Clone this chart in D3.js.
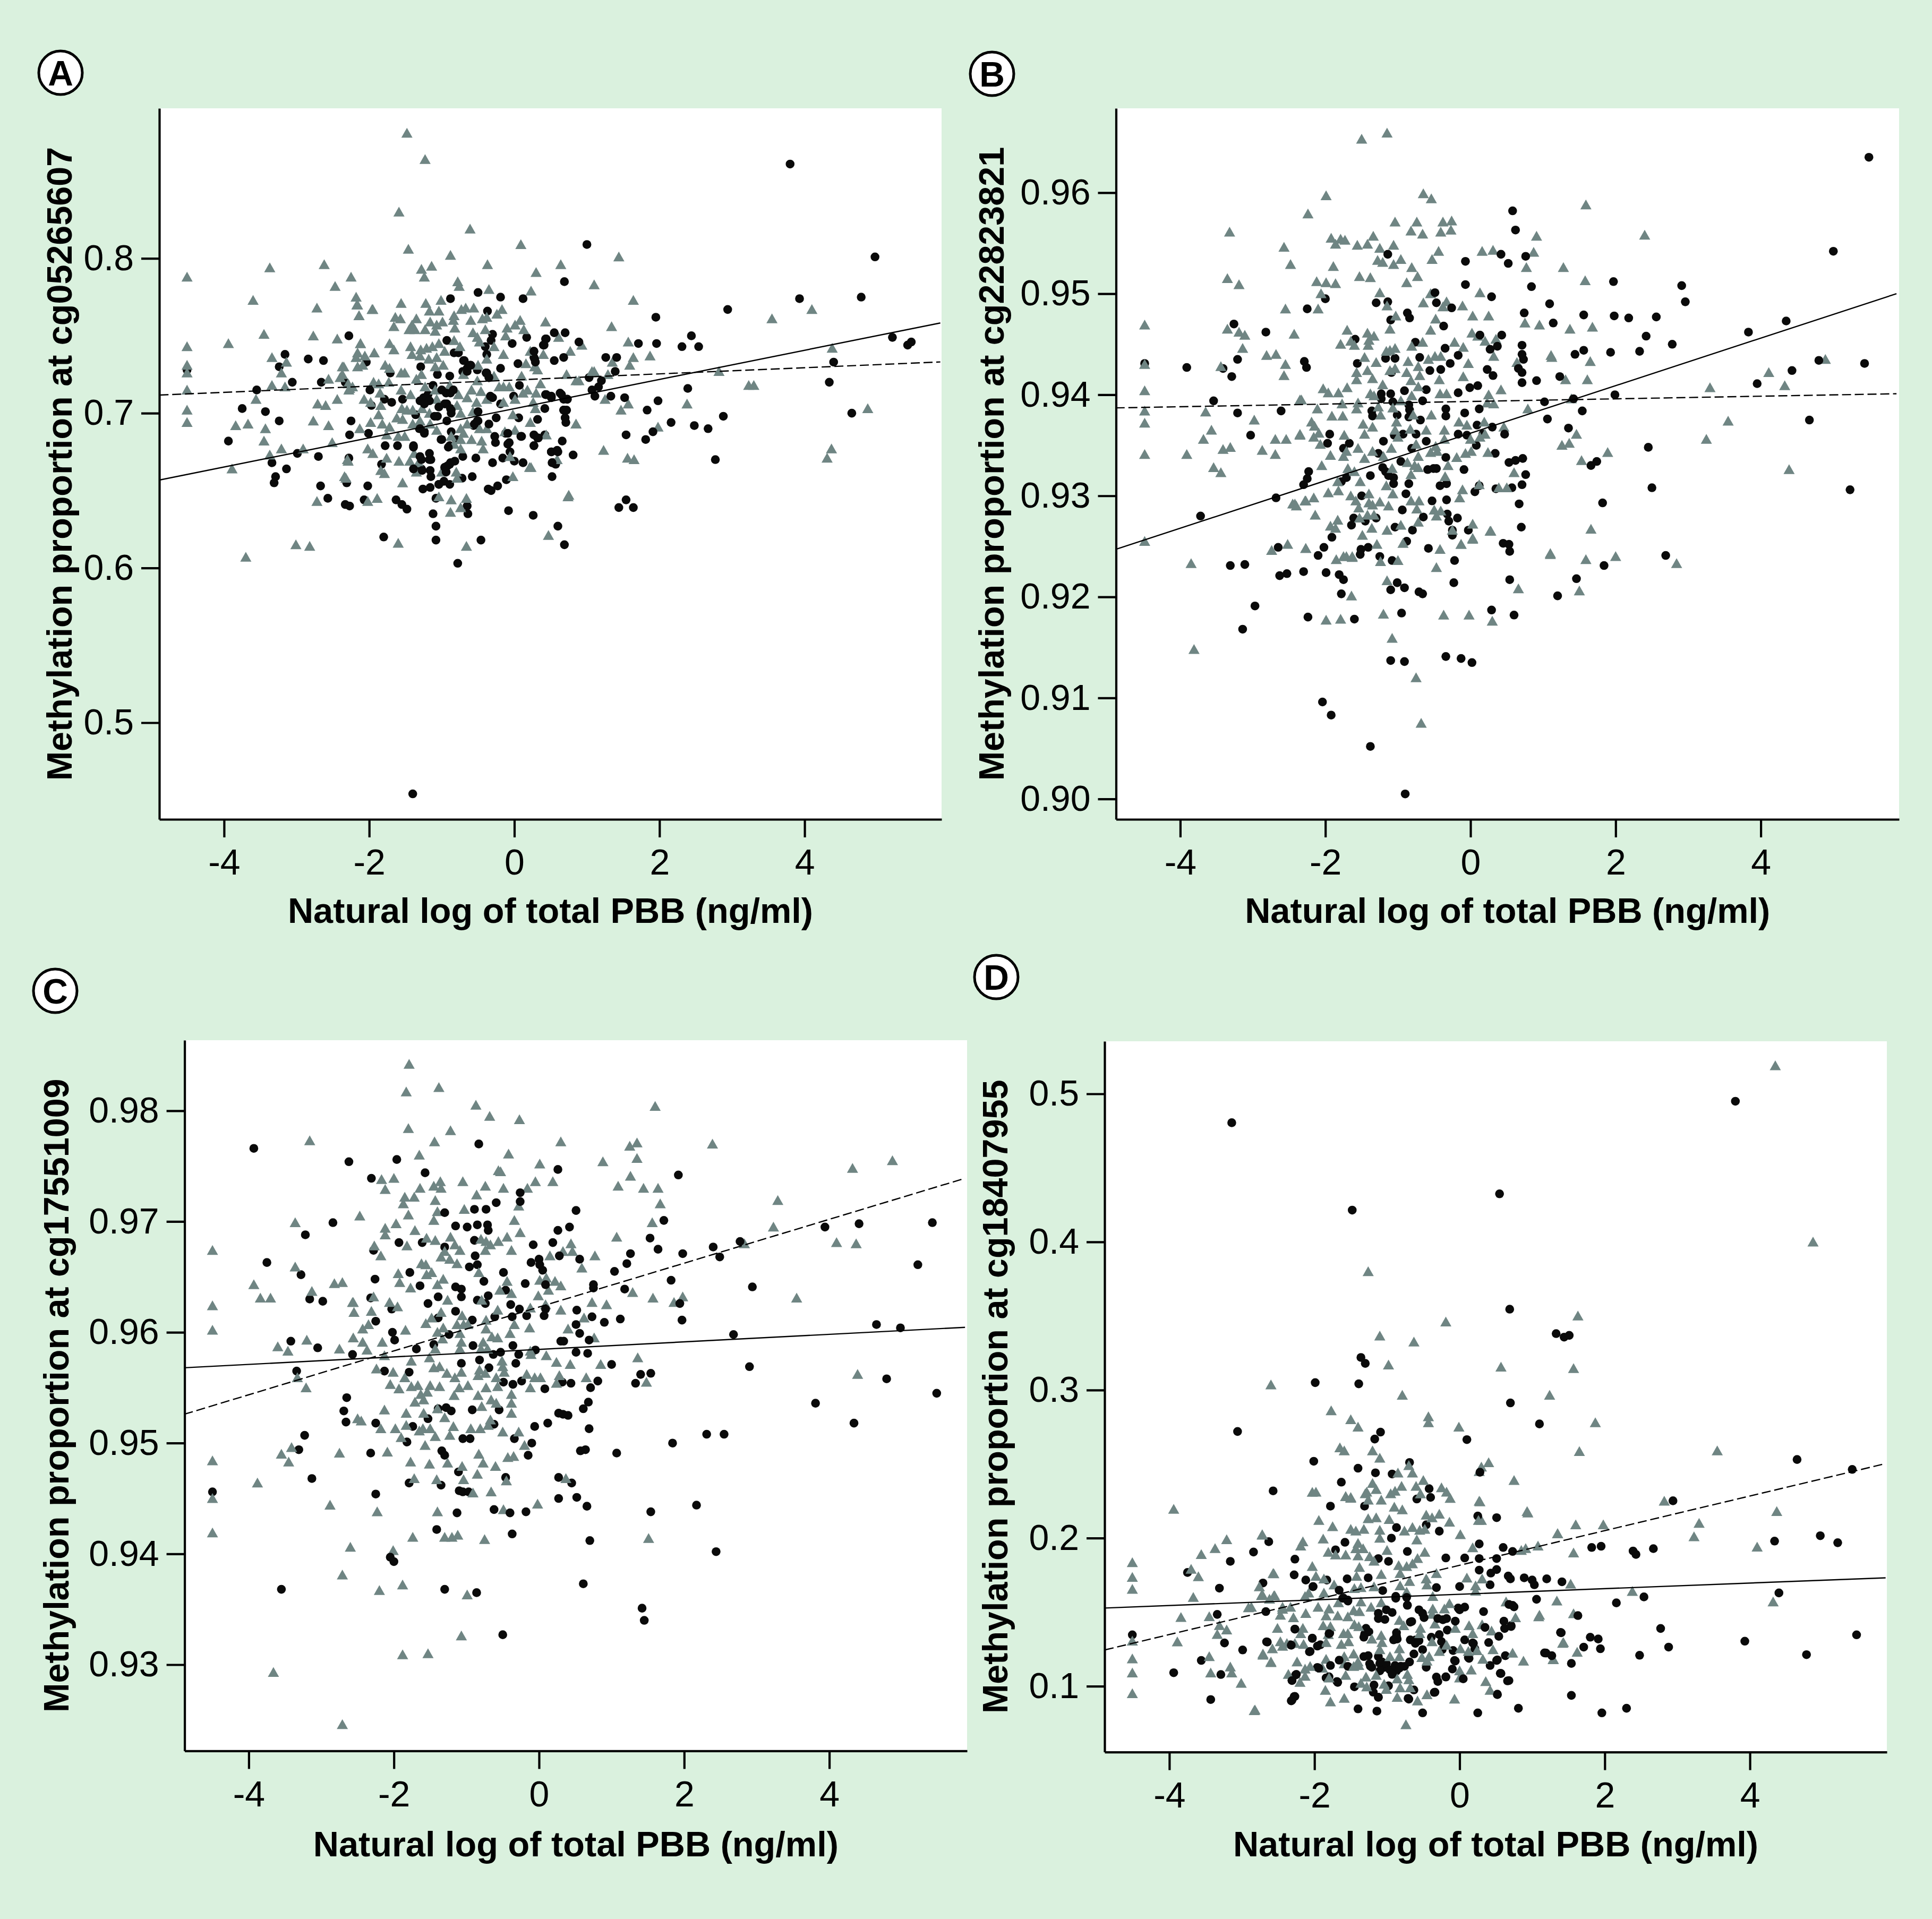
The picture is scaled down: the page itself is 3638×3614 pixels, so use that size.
<!DOCTYPE html>
<html><head><meta charset="utf-8">
<script src="https://cdn.jsdelivr.net/npm/d3@7"></script>
<style>html,body{margin:0;padding:0;background:#daf1de}</style></head>
<body><div id="chart"></div>
<script>
// Flat lists of x,y readings: natural log of total PBB, methylation proportion
const circlesA=[-4.51,.728,-3.94,.682,-3.75,.703,-3.55,.715,-3.43,.701,-3.24,.695,-3.24,.730,-3.16,.738,-3.06,.720,-2.99,.674,-3.34,.668,-3.29,.659,-3.31,.655,-3.14,.664,-2.84,.735,-2.70,.672,-2.63,.734,-2.66,.720,-2.67,.653,-2.57,.645,-2.28,.750,-2.33,.720,-2.25,.695,-2.27,.686,-2.28,.671,-2.31,.655,-2.33,.641,-2.27,.640,-2.07,.644,-2.02,.653,-2.04,.733,-1.99,.715,-1.97,.705,-2.01,.687,-1.83,.667,-1.78,.679,-1.80,.620,-1.79,.709,-1.71,.726,-1.69,.707,-1.61,.679,-1.63,.644,-1.55,.641,-1.48,.638,-1.54,.709,-1.40,.454,-1.39,.679,-1.36,.699,-1.31,.690,-1.29,.730,-1.38,.664,-1.26,.651,-1.28,.664,-1.30,.708,-1.25,.710,-1.24,.688,-1.19,.712,-1.17,.674,-1.15,.670,-1.16,.663,-1.15,.659,-1.16,.652,-1.12,.635,-1.08,.627,-1.08,.618,-1.08,.645,-1.06,.725,-1.12,.718,-1.06,.698,-1,.683,-1.04,.654,-.97,.656,-.89,.654,-.96,.662,-.92,.666,-.88,.668,-.88,.774,-.93,.747,-.89,.724,-.93,.706,-.88,.703,-.93,.695,-.87,.688,-.89,.679,-.83,.739,-.77,.739,-.69,.734,-.71,.727,-.65,.729,-.61,.731,-.80,.683,-.78,.603,-.71,.672,-.72,.658,-.65,.640,-.64,.635,-.58,.659,-.53,.671,-.56,.692,-.51,.695,-.51,.728,-.50,.778,-.46,.618,-.40,.743,-.38,.738,-.39,.726,-.37,.766,-.35,.723,-.32,.747,-.30,.751,-.36,.651,-.32,.650,-.30,.668,-.25,.697,-.23,.653,-.19,.775,-.19,.729,-.19,.706,-.16,.671,-.11,.657,-.08,.637,-.12,.687,-.07,.681,-.03,.745,-.01,.711,0,.669,.06,.697,.07,.718,.05,.732,.12,.668,.12,.774,.10,.685,.17,.749,.27,.740,.27,.736,.26,.634,.27,.686,.27,.679,.32,.696,.32,.684,.41,.744,.43,.748,.42,.703,.43,.712,.42,.686,.51,.711,.51,.675,.52,.659,.55,.752,.55,.734,.53,.668,.57,.667,.59,.676,.60,.627,.65,.712,.66,.682,.68,.702,.69,.785,.70,.752,.69,.615,.72,.702,.73,.709,.68,.736,.71,.694,.81,.673,.89,.746,1.0,.809,1.03,.723,1.07,.715,1.11,.711,1.16,.717,1.20,.721,1.26,.736,1.33,.711,1.39,.727,1.41,.736,1.44,.639,1.52,.710,1.54,.686,1.54,.644,1.64,.639,1.71,.745,1.83,.702,1.81,.683,1.91,.688,1.95,.762,1.96,.745,1.98,.708,2.16,.694,2.31,.743,2.39,.716,2.44,.750,2.48,.692,2.54,.743,2.67,.690,2.77,.670,2.88,.698,2.94,.767,3.80,.861,3.93,.774,4.34,.720,4.40,.733,4.65,.700,4.78,.775,4.97,.801,5.21,.749,5.42,.744,5.47,.746,-1.21,.710,-1.17,.708,-1.24,.706,-1.0,.715,-.94,.713,-.88,.713,-.84,.715,-.96,.706,-1.04,.704,-.87,.702,-.87,.700,-1.10,.698,-.33,.711,-.30,.710,-.38,.726,-.35,.723,-.65,.727,-.60,.731,-.70,.734,.27,.740,.28,.735,.29,.733,.68,.702,.70,.697,.44,.712,.51,.710,.63,.713,.68,.709,.73,.709,.44,.748,.40,.744,-.55,.693,-.50,.695,-.50,.701,-.35,.693,-.27,.685,-.26,.681,-.09,.687,-.09,.680,-.06,.675,.09,.685,.33,.684,.27,.679,.51,.675,.60,.675,.52,.668,-1.30,.690,-1.24,.687,-1.01,.683,-.91,.678,-1.17,.670,-1.30,.672,-1.28,.670,-1.39,.678,-1.39,.664,-1.27,.663,-.96,.665,-.94,.662,-.89,.667,-.82,.669,-1.04,.654];
const trianglesA=[-4.51,.788,-4.51,.743,-4.51,.731,-4.51,.726,-4.51,.715,-4.51,.702,-4.51,.694,-3.94,.745,-3.89,.664,-3.84,.692,-3.67,.693,-3.70,.607,-3.60,.773,-3.56,.709,-3.45,.751,-3.45,.682,-3.43,.690,-3.37,.794,-3.34,.736,-3.34,.718,-3.37,.673,-3.21,.677,-3.21,.726,-3.14,.733,-3.16,.717,-3.01,.615,-2.82,.614,-2.72,.768,-2.77,.750,-2.77,.695,-2.71,.706,-2.72,.643,-2.91,.677,-2.62,.796,-2.60,.705,-2.56,.692,-2.51,.681,-2.56,.722,-2.47,.782,-2.44,.748,-2.44,.709,-2.40,.723,-2.37,.730,-2.25,.788,-2.18,.775,-2.17,.770,-2.14,.763,-2.12,.745,-2.18,.736,-2.27,.716,-2.29,.719,-2.34,.659,-2.30,.670,-1.96,.767,-1.59,.830,-1.46,.806,-1.48,.881,-1.23,.864,-1.28,.793,-1.24,.788,-1.14,.795,-.88,.802,-.61,.819,.09,.809,.30,.791,.23,.779,.64,.796,-.37,.796,-.78,.785,-.76,.782,-.35,.780,1.10,.783,1.44,.801,1.34,.756,1.64,.773,1.57,.746,1.64,.736,1.59,.731,1.87,.737,2.82,.727,3.23,.718,3.30,.718,3.55,.761,4.10,.767,4.38,.742,4.87,.703,4.37,.677,4.31,.671,2.38,.706,1.98,.691,1.65,.670,1.56,.671,1.57,.706,1.47,.702,1.23,.676,1.25,.709,1.29,.725,1.35,.733,1.10,.727,.85,.721,.85,.693,.75,.647,.47,.621,.23,.665,-.66,.614,-1.6,.616,-2.16,.770,-2.14,.763,-1.95,.767,-1.56,.771,-1.22,.771,-1.01,.773,-1.17,.766,-1.04,.766,-.83,.763,-.73,.767,-.67,.768,-.56,.768,-.17,.767,-.24,.764,-.38,.762,-.44,.761,-1.64,.762,-1.57,.761,-1.66,.756,-1.35,.761,-1.41,.757,-1.45,.754,-1.37,.754,-1.16,.759,-1.23,.754,-1.07,.757,-.99,.759,-1.09,.753,-.84,.760,-.82,.755,-.60,.760,-.57,.752,-.40,.754,-.51,.749,-.48,.746,-.10,.755,.01,.757,.08,.760,.43,.759,-.12,.750,.13,.754,.61,.749,-.28,.743,-.83,.747,-.75,.743,-2.12,.745,-2.16,.739,-1.93,.739,-2.06,.737,-2.16,.730,-2.09,.731,-1.72,.745,-1.66,.741,-1.43,.743,-1.41,.738,-1.29,.741,-1.21,.742,-1.13,.743,-1.04,.745,-1.07,.736,-1.30,.737,-1.18,.735,-.96,.740,-.98,.731,-1.09,.730,-.38,.735,-.15,.738,.22,.740,.40,.738,.77,.740,.16,.732,.28,.730,.32,.728,.93,.744,-2.35,.730,-2.37,.725,-1.78,.731,-1.72,.729,-1.56,.726,-1.51,.726,-1.28,.725,-1.35,.722,-.70,.725,-.50,.731,-.28,.724,.10,.724,.36,.719,.72,.725,.89,.721,1.07,.727,-1.94,.720,-1.87,.719,-1.73,.720,-1.56,.715,-1.85,.713,-1.43,.712,-1.23,.717,-1.09,.715,-.89,.718,-.51,.721,-.59,.715,-.46,.714,-.21,.717,-.15,.717,-.07,.717,.18,.715,.12,.713,.30,.713,-2.23,.717,-2.28,.715,-2.07,.709,-1.98,.707,-1.84,.705,-1.55,.703,-1.48,.702,-1.40,.702,-1.07,.709,-1.27,.703,-1.17,.700,-.77,.712,-.65,.710,-.52,.707,-.38,.709,-.15,.707,.01,.709,.26,.707,.29,.703,-.79,.705,-.74,.700,-.57,.701,-.02,.699,-1.87,.699,-1.62,.697,-1.54,.696,-1.98,.694,-2.13,.690,-1.82,.693,-1.72,.691,-1.76,.686,-1.60,.685,-1.51,.685,-1.40,.693,-1.30,.695,-1.16,.693,-1.07,.689,-.74,.690,-.65,.693,-.70,.687,-.59,.683,-.48,.690,-.38,.690,-.13,.688,.01,.689,.22,.694,.44,.686,.85,.693,-.87,.685,-.74,.683,-.45,.682,-.43,.677,-.83,.680,-.74,.677,-2.02,.677,-1.95,.674,-1.76,.671,-1.59,.669,-1.44,.669,-1.32,.668,-1.38,.674,-.06,.672,.59,.670,.21,.665,-2.29,.669,-1.84,.663,-1.79,.661,-1.35,.662,-1.0,.662,-.80,.662,-.79,.658,-.02,.659,-2.32,.658,-1.54,.655,-2.02,.643,-1.89,.645,-1.04,.646,-.87,.644,-.66,.645,.74,.646,-.88,.636,-.74,.639];
const circlesB=[-4.49,.9431,-3.91,.9427,-3.72,.9280,-3.54,.9394,-3.41,.9426,-3.31,.9231,-3.29,.9418,-3.26,.9470,-3.21,.9435,-3.21,.9382,-3.11,.9232,-3.14,.9168,-3.03,.9360,-2.97,.9191,-2.82,.9462,-2.68,.9298,-2.65,.9249,-2.63,.9221,-2.61,.9384,-2.53,.9223,-2.30,.9225,-2.29,.9433,-2.26,.9427,-2.25,.9485,-2.24,.9180,-2.30,.9311,-2.25,.9317,-2.23,.9324,-2.10,.9241,-2.04,.9096,-2.02,.9249,-2.0,.9495,-1.99,.9224,-1.97,.9352,-1.94,.9361,-1.91,.9259,-1.92,.9083,-1.81,.9222,-1.78,.9314,-1.78,.9203,-1.75,.9217,-1.75,.9347,-1.67,.9352,-1.71,.9318,-1.64,.9271,-1.61,.9278,-1.59,.9455,-1.60,.9178,-1.56,.9431,-1.50,.9300,-1.51,.9247,-1.52,.9242,-1.41,.9249,-1.45,.9275,-1.38,.9052,-1.36,.9384,-1.35,.9379,-1.38,.9320,-1.30,.9278,-1.30,.9491,-1.27,.9342,-1.25,.9240,-1.23,.9401,-1.23,.9396,-1.21,.9328,-1.17,.9324,-1.20,.9354,-1.17,.9436,-1.14,.9539,-1.14,.9492,-1.10,.9474,-1.10,.9207,-1.10,.9137,-1.08,.9236,-1.09,.9422,-1.10,.9401,-1.07,.9393,-1.06,.9318,-1.06,.9312,-1.13,.9320,-1.04,.9436,-1.05,.9360,-1.04,.9269,-1.01,.9380,-1.01,.9214,-.96,.9334,-.94,.9286,-.93,.9361,-.91,.9404,-.91,.9209,-.91,.9136,-.90,.9005,-.89,.9302,-.88,.9255,-.87,.9481,-.84,.9476,-.85,.9312,-.85,.9390,-.84,.9385,-.85,.9378,-.81,.9347,-.80,.9266,-.95,.9184,-.76,.9452,-.75,.9361,-.71,.9205,-.66,.9203,-.69,.9375,-.70,.9437,-.66,.9394,-.65,.9279,-.61,.9405,-.61,.9354,-.59,.9326,-.58,.9248,-.56,.9424,-.53,.9295,-.51,.9327,-.47,.9327,-.49,.9501,-.47,.9491,-.42,.9310,-.41,.9425,-.37,.9468,-.35,.9446,-.34,.9141,-.34,.9386,-.34,.9379,-.33,.9296,-.33,.9312,-.34,.9338,-.32,.9282,-.30,.9275,-.28,.9431,-.26,.9486,-.25,.9266,-.25,.9261,-.23,.9214,-.22,.9236,-.18,.9278,-.17,.9439,-.17,.9402,-.17,.9361,-.13,.9139,-.09,.9326,-.08,.9382,-.07,.9509,-.07,.9532,-.05,.9360,-.03,.9266,-.01,.9407,.02,.9135,.10,.9409,.08,.9350,.09,.9370,.12,.9386,.13,.9459,.12,.9310,.06,.9304,.17,.9361,.23,.9425,.27,.9445,.29,.9497,.29,.9187,.31,.9419,.30,.9368,.34,.9342,.35,.9307,.37,.9448,.42,.9539,.43,.9459,.47,.9361,.45,.9253,.52,.9530,.53,.9333,.53,.9252,.54,.9245,.54,.9217,.57,.9308,.58,.9582,.60,.9182,.62,.9563,.62,.9335,.66,.9426,.71,.9412,.71,.9422,.71,.9440,.73,.9435,.71,.9449,.72,.9337,.71,.9311,.67,.9292,.70,.9269,.76,.9321,.74,.9481,.76,.9537,.84,.9507,.91,.9414,1.02,.9393,1.06,.9376,1.09,.9490,1.14,.9471,1.20,.9201,1.23,.9418,1.35,.9367,1.42,.9396,1.44,.9440,1.46,.9218,1.54,.9384,1.56,.9444,1.56,.9479,1.66,.9330,1.74,.9334,1.82,.9293,1.84,.9231,1.93,.9442,1.97,.9512,1.98,.9478,1.99,.9400,2.18,.9476,2.33,.9443,2.42,.9458,2.45,.9348,2.50,.9308,2.56,.9477,2.69,.9241,2.78,.9450,2.91,.9508,2.96,.9492,3.83,.9462,3.95,.9411,4.35,.9473,4.43,.9424,4.67,.9375,4.80,.9434,5.0,.9542,5.23,.9306,5.43,.9431,5.49,.9635];
const trianglesB=[-4.49,.9469,-4.49,.9430,-4.49,.9404,-4.49,.9384,-4.49,.9372,-4.49,.9341,-4.49,.9255,-3.91,.9341,-3.85,.9233,-3.81,.9148,-3.68,.9356,-3.65,.9383,-3.57,.9365,-3.54,.9328,-3.44,.9323,-3.44,.9428,-3.41,.9346,-3.31,.9348,-3.32,.9561,-3.35,.9515,-3.35,.9465,-3.19,.9509,-3.19,.9462,-3.11,.9459,-3.14,.9446,-2.98,.9375,-2.87,.9345,-2.81,.9439,-2.68,.9440,-2.74,.9246,-2.69,.9356,-2.69,.9341,-2.54,.9356,-2.57,.9546,-2.55,.9485,-2.48,.9529,-2.55,.9430,-2.57,.9419,-2.43,.9460,-2.52,.9252,-2.45,.9292,-2.42,.9292,-2.35,.9395,-2.35,.9361,-2.27,.9248,-2.28,.9295,-2.24,.9579,-2.12,.9512,-2.06,.9500,-1.99,.9597,-1.99,.9511,-1.92,.9555,-1.89,.9527,-1.86,.9510,-1.86,.9549,-1.79,.9554,-1.73,.9553,-1.99,.9177,-1.79,.9178,-1.64,.9201,-1.71,.9240,-1.63,.9240,-1.56,.9548,-1.50,.9653,-1.53,.9517,-1.42,.9549,-1.34,.9557,-1.38,.9516,-1.15,.9659,-1.25,.9545,-1.06,.9548,-1.04,.9571,-1.21,.9531,-1.28,.9533,-1.06,.9529,-.96,.9534,-.82,.9562,-.74,.9571,-.65,.9599,-.54,.9594,-.66,.9559,-.81,.9526,-.73,.9517,-.53,.9534,-.44,.9542,-.88,.9511,-.38,.9571,-.26,.9572,-.41,.9561,-.27,.9563,-1.25,.9501,-.55,.9500,.13,.9501,.16,.9542,.31,.9543,.91,.9557,.87,.9541,.77,.9526,1.28,.9526,1.37,.9465,1.58,.9513,1.59,.9588,1.68,.9467,2.40,.9558,1.11,.9439,1.31,.9415,1.65,.9433,1.61,.9415,1.39,.9396,1.46,.9361,1.36,.9352,1.26,.9350,1.53,.9335,1.89,.9343,1.66,.9267,1.59,.9237,1.50,.9206,2.0,.9240,2.84,.9233,1.10,.9243,.66,.9208,.30,.9176,.27,.9265,.03,.9258,-.02,.9182,-.37,.9182,-.13,.9252,-.47,.9229,-.75,.9120,-.68,.9075,-1.08,.9159,-1.20,.9183,-1.15,.9216,-1.0,.9236,3.30,.9407,3.55,.9374,3.25,.9356,4.11,.9422,4.33,.9409,4.89,.9435,4.39,.9326,-2.10,.9485,-1.15,.9488,-.65,.9491,-.33,.9492,-.38,.9487,-.11,.9488,-1.03,.9478,-.48,.9475,.03,.9478,.25,.9478,-.55,.9464,-1.11,.9465,.75,.9471,.95,.9469,1.12,.9437,-1.70,.9464,-1.79,.9450,-1.65,.9453,-1.60,.9449,-1.42,.9461,-1.40,.9454,-1.41,.9449,-1.33,.9458,.02,.9461,.10,.9458,.20,.9453,.35,.9455,.32,.9438,-.22,.9452,-.10,.9447,-.81,.9448,-.66,.9452,-1.16,.9443,-1.11,.9444,-1.04,.9446,-1.46,.9437,-1.30,.9432,-.86,.9433,-.58,.9435,-.49,.9438,-.41,.9438,-.72,.9428,-1.57,.9422,-1.42,.9424,-1.57,.9415,-1.35,.9416,-1.11,.9424,-1.04,.9426,-.88,.9422,-.70,.9419,-.43,.9415,-.10,.9418,-.03,.9431,.64,.9432,-.82,.9414,-1.21,.9410,-.72,.9408,-2.03,.9406,-1.96,.9402,-1.82,.9402,-1.70,.9407,-.42,.9401,-.33,.9401,.42,.9405,-1.38,.9401,-1.33,.9399,-2.33,.9395,-.81,.9399,-.96,.9394,.25,.9400,.23,.9392,.32,.9391,-1.77,.9391,-1.55,.9392,-1.57,.9386,-2.11,.9386,-1.27,.9388,-1.07,.9387,.79,.9386,-1.91,.9379,-1.76,.9379,-1.24,.9380,-.79,.9380,-.54,.9380,-2.19,.9373,-2.15,.9369,-1.48,.9371,-1.35,.9368,-1.02,.9373,-.16,.9373,-.05,.9370,.19,.9373,.46,.9368,-2.35,.9360,-2.09,.9362,-2.16,.9358,-1.74,.9360,-1.46,.9361,-1.04,.9365,-.83,.9366,-.61,.9365,-.36,.9365,.13,.9358,.20,.9361,-1.0,.9358,-.36,.9356,0,.9356,-2.07,.9351,-1.55,.9347,-1.09,.9347,-.75,.9351,-.48,.9349,-1.93,.9340,-1.75,.9339,-1.71,.9344,-1.46,.9337,-1.35,.9344,-1.20,.9339,-.55,.9343,-.46,.9344,-.19,.9338,-.07,.9342,.01,.9344,.24,.9343,-.72,.9339,-.87,.9333,-.72,.9328,-.77,.9330,-.31,.9330,-1.08,.9327,-1.69,.9327,-1.60,.9324,-2.05,.9330,-.82,.9321,-.35,.9319,.60,.9323,-1.83,.9314,-1.52,.9314,-1.16,.9310,-1.82,.9305,-1.96,.9303,-2.16,.9298,-2.27,.9295,-2.40,.9290,-1.40,.9302,-1.07,.9302,-.11,.9306,-.15,.9298,.12,.9311,.39,.9308,.50,.9308,-1.65,.9300,-1.58,.9295,-1.40,.9293,-1.25,.9294,-1.35,.9291,-1.54,.9288,-1.13,.9290,-.82,.9295,-.71,.9295,-.74,.9287,-.50,.9286,-.41,.9285,-.47,.9280,-2.14,.9281,-1.83,.9276,-1.53,.9278,-1.42,.9281,-1.33,.9281,-1.93,.9270,-1.86,.9268,-1.36,.9268,-1.15,.9266,-.96,.9271,-.72,.9274,.03,.9272,-.25,.9266,.28,.9265,-1.49,.9261,-.93,.9253,-1.29,.9252,.03,.9257,-.13,.9252,-.42,.9247,-2.27,.9248,1.10,.9242,-1.75,.9240,-1.85,.9237,-1.63,.9239,-1.24,.9235];
const circlesC=[-4.50,.9456,-3.93,.9766,-3.55,.9368,-3.75,.9663,-3.42,.9592,-3.34,.9565,-3.31,.9494,-3.28,.9652,-3.23,.9507,-3.22,.9688,-3.16,.9630,-3.13,.9468,-3.05,.9586,-2.98,.9628,-2.84,.9699,-2.69,.9529,-2.66,.9519,-2.65,.9541,-2.62,.9754,-2.57,.9580,-2.32,.9491,-2.31,.9739,-2.28,.9674,-2.26,.9648,-2.25,.9518,-2.25,.9454,-2.25,.9610,-2.32,.9631,-2.13,.9565,-2.05,.9397,-2.0,.9393,-2.03,.9621,-2.02,.9600,-1.99,.9593,-1.96,.9756,-1.93,.9681,-1.82,.9501,-1.79,.9464,-1.79,.9564,-1.78,.9654,-1.74,.9515,-1.69,.9585,-1.64,.9642,-1.61,.9681,-1.57,.9744,-1.53,.9626,-1.53,.9522,-1.45,.9589,-1.41,.9422,-1.39,.9632,-1.39,.9613,-1.39,.9531,-1.35,.9462,-1.34,.9493,-1.30,.9708,-1.30,.9489,-1.30,.9368,-1.30,.9677,-1.28,.9532,-1.24,.9598,-1.21,.9529,-1.15,.9619,-1.15,.9696,-1.15,.9641,-1.13,.9437,-1.11,.9474,-1.10,.9457,-1.07,.9639,-1.07,.9572,-1.07,.9632,-1.05,.9504,-1.05,.9456,-.99,.9695,-.97,.9456,-.95,.9504,-.96,.9659,-.92,.9611,-.91,.9588,-.89,.9711,-.89,.9683,-.86,.9365,-.92,.9530,-.88,.9669,-.85,.9697,-.85,.9661,-.83,.9770,-.85,.9629,-.82,.9575,-.76,.9646,-.73,.9711,-.71,.9697,-.70,.9692,-.70,.9633,-.69,.9568,-.74,.9626,-.63,.9580,-.62,.9440,-.62,.9517,-.59,.9717,-.61,.9614,-.55,.9530,-.53,.9582,-.49,.9654,-.49,.9555,-.50,.9327,-.46,.9638,-.46,.9469,-.40,.9437,-.39,.9625,-.37,.9614,-.36,.9588,-.36,.9553,-.37,.9418,-.34,.9504,-.32,.9572,-.28,.9580,-.27,.9621,-.26,.9726,-.26,.9718,-.24,.9556,-.18,.9438,-.19,.9644,-.17,.9615,-.15,.9489,-.11,.9663,-.10,.9500,-.08,.9679,-.05,.9584,-.06,.9515,0,.9666,.01,.9661,.05,.9656,.09,.9643,.09,.9621,.07,.9615,.08,.9549,.12,.9518,.19,.9681,.26,.9692,.26,.9747,.27,.9450,.28,.9669,.27,.9469,.30,.9592,.34,.9592,.32,.9555,.27,.9527,.33,.9526,.40,.9525,.42,.9695,.44,.9554,.45,.9464,.51,.9710,.52,.9451,.52,.9620,.51,.9607,.56,.9599,.51,.9582,.56,.9666,.57,.9493,.64,.9494,.61,.9531,.61,.9373,.66,.9443,.68,.9537,.70,.9412,.69,.9513,.71,.9550,.73,.9614,.75,.9643,.75,.9640,.69,.9593,.67,.9581,.81,.9556,.90,.9609,1.0,.9571,1.04,.9655,1.07,.9491,1.12,.9612,1.18,.9639,1.21,.9662,1.26,.9671,1.33,.9554,1.40,.9562,1.42,.9351,1.45,.9340,1.54,.9563,1.54,.9438,1.53,.9685,1.64,.9675,1.72,.9701,1.82,.9647,1.84,.9500,1.92,.9742,1.94,.9626,1.97,.9611,1.98,.9671,2.17,.9444,2.31,.9508,2.40,.9677,2.44,.9402,2.49,.9668,2.55,.9508,2.68,.9598,2.77,.9682,2.90,.9569,2.94,.9641,3.81,.9536,3.94,.9695,4.34,.9518,4.41,.9698,4.65,.9607,4.79,.9558,4.98,.9604,5.22,.9661,5.42,.9699,5.48,.9545];
const trianglesC=[-4.50,.9674,-4.50,.9624,-4.50,.9602,-4.50,.9484,-4.50,.9450,-4.50,.9419,-3.93,.9643,-3.88,.9464,-3.84,.9631,-3.70,.9631,-3.66,.9293,-3.60,.9587,-3.55,.9490,-3.46,.9583,-3.45,.9483,-3.41,.9496,-3.36,.9699,-3.36,.9659,-3.33,.9559,-3.20,.9593,-3.21,.9550,-3.16,.9773,-3.13,.9637,-2.88,.9444,-2.82,.9644,-2.71,.9645,-2.75,.9491,-2.75,.9585,-2.71,.9381,-2.71,.9246,-2.60,.9406,-2.57,.9627,-2.47,.9705,-2.23,.9438,-2.20,.9367,-2.17,.9738,-2.12,.9729,-2.01,.9403,-2.0,.9739,-1.88,.9372,-1.88,.9309,-1.87,.9716,-1.85,.9722,-1.83,.9817,-1.80,.9784,-1.79,.9842,-1.80,.9706,-1.74,.9415,-1.72,.9722,-1.65,.9760,-1.64,.9730,-1.53,.9310,-1.44,.9772,-1.38,.9821,-1.45,.9732,-1.36,.9736,-1.35,.9730,-1.43,.9719,-1.40,.9709,-1.45,.9701,-1.40,.9438,-1.30,.9415,-1.20,.9415,-1.12,.9417,-1.22,.9782,-1.07,.9326,-.99,.9363,-1.05,.9736,-1.03,.9711,-.87,.9805,-.86,.9724,-.74,.9732,-.68,.9795,-.56,.9746,-.53,.9745,-.49,.9730,-.42,.9761,-.27,.9792,-.28,.9714,-.34,.9701,-.16,.9730,-.05,.9736,.01,.9752,.19,.9736,.30,.9772,.88,.9754,1.09,.9732,1.07,.9686,1.25,.9768,1.35,.9771,1.35,.9757,1.26,.9741,1.44,.9730,1.60,.9804,1.64,.9730,1.67,.9716,1.56,.9699,2.39,.9770,2.83,.9680,3.23,.9695,3.29,.9719,3.55,.9631,4.10,.9681,4.32,.9748,4.37,.9680,4.39,.9562,4.87,.9755,1.98,.9632,1.86,.9627,1.57,.9631,1.29,.9636,1.36,.9577,1.48,.9555,1.51,.9414,-.75,.9413,-.49,.9440,-.02,.9445,-.66,.9456,-.91,.9455,-2.12,.9694,-1.97,.9698,-2.12,.9688,-1.71,.9692,-1.55,.9685,-1.43,.9683,-2.27,.9678,-2.18,.9669,-1.82,.9678,-1.22,.9686,-1.16,.9679,-1.09,.9674,-1.30,.9673,-1.35,.9668,-1.23,.9666,-1.13,.9662,-.80,.9684,-.73,.9682,-.67,.9679,-.56,.9682,-.44,.9686,-.74,.9674,-.38,.9674,-.26,.9690,.44,.9680,.46,.9673,.33,.9673,.15,.9669,.77,.9669,.59,.9658,-1.62,.9662,-1.56,.9661,-1.94,.9653,-1.55,.9652,-1.48,.9654,-1.92,.9645,-1.77,.9640,-1.40,.9643,-1.32,.9648,-.83,.9654,-.44,.9646,-.54,.9638,-.38,.9635,.01,.9647,.10,.9649,.22,.9646,.30,.9642,.13,.9638,-.01,.9633,.09,.9625,-2.28,.9632,-2.56,.9627,-2.55,.9618,-2.31,.9619,-2.06,.9627,-1.95,.9623,-1.26,.9629,-.79,.9629,-1.35,.9618,-1.56,.9608,-1.48,.9613,-1.06,.9615,-1.13,.9607,-1.04,.9607,-.98,.9607,-.73,.9611,-.57,.9620,-.12,.9622,-.34,.9607,-.13,.9604,.30,.9620,.62,.9613,.73,.9627,.93,.9625,.40,.9603,-2.43,.9603,-2.35,.9607,-2.56,.9595,-1.84,.9602,-1.40,.9600,-1.32,.9604,-1.09,.9599,-.73,.9603,-.40,.9599,-1.33,.9594,-1.07,.9591,-.77,.9591,-.65,.9596,-.57,.9595,.76,.9595,-2.16,.9591,-2.43,.9591,-2.37,.9584,-1.43,.9585,-1.09,.9585,-.80,.9585,-.71,.9585,-.12,.9583,-.11,.9580,.10,.9579,-2.13,.9579,-1.76,.9574,-1.51,.9577,-.51,.9574,-1.45,.9568,-1.37,.9569,-.50,.9569,-.48,.9564,.24,.9573,.43,.9571,.85,.9571,-2.24,.9567,-2.01,.9564,-1.27,.9563,-1.07,.9564,-1.16,.9559,-.82,.9566,-.74,.9563,-.84,.9561,-.59,.9559,-.17,.9562,-.06,.9559,.02,.9559,.28,.9561,.65,.9559,-2.05,.9553,-1.85,.9559,-1.76,.9551,-1.67,.9552,-1.50,.9552,-1.37,.9551,-.98,.9552,-1.93,.9549,-1.54,.9546,-1.63,.9544,-1.17,.9543,-1.10,.9550,-.73,.9550,-.57,.9551,-.38,.9544,-.12,.9550,.24,.9554,-1.71,.9537,-1.59,.9539,-.84,.9543,-.79,.9533,-.66,.9539,-.59,.9536,-.38,.9536,-.38,.9527,-2.13,.9530,-1.83,.9527,-1.59,.9527,-1.30,.9523,-1.40,.9531,-.67,.9521,-.70,.9516,-2.50,.9522,-2.45,.9520,-2.18,.9513,-1.98,.9513,-1.83,.9516,-1.90,.9505,-1.65,.9511,-1.60,.9513,-1.50,.9513,-1.43,.9506,-1.18,.9515,-1.23,.9507,-.94,.9513,-.81,.9513,-.50,.9510,-.28,.9510,-1.57,.9498,-2.09,.9492,-.20,.9498,-.83,.9490,-.43,.9487,-.35,.9488,-1.77,.9483,-1.51,.9481,-1.26,.9482,-.77,.9482,-.60,.9479,-1.06,.9479,-.85,.9472,-1.72,.9468,-1.41,.9467,-1.04,.9467,.37,.9468,-.45,.9466];
const circlesD=[-4.51,.1347,-3.94,.1091,-3.75,.1768,-3.56,.1174,-3.43,.0910,-3.34,.1485,-3.31,.1662,-3.29,.1079,-3.24,.1292,-3.16,.1843,-3.14,.4805,-3.06,.2720,-2.99,.1245,-2.84,.1906,-2.71,.1697,-2.67,.1504,-2.66,.1300,-2.63,.1976,-2.57,.2319,-2.33,.1280,-2.31,.0906,-2.28,.0930,-2.28,.1752,-2.27,.1858,-2.27,.1386,-2.26,.1076,-2.31,.1040,-2.12,.1717,-2.07,.1233,-2.03,.1323,-2.02,.1673,-2.01,.2519,-1.99,.3050,-1.96,.1127,-1.92,.1280,-1.83,.1717,-1.79,.1359,-1.78,.2216,-1.80,.1064,-1.71,.1921,-1.69,.1032,-1.63,.2378,-1.58,.1972,-1.60,.1595,-1.55,.1725,-1.54,.1575,-1.48,.4215,-1.40,.2472,-1.40,.0847,-1.39,.3042,-1.36,.3220,-1.31,.1351,-1.30,.3180,-1.31,.2216,-1.26,.1732,-1.23,.1135,-1.17,.2669,-1.16,.2441,-1.14,.0832,-1.12,.0926,-1.12,.1862,-1.09,.2716,-1.10,.1154,-1.06,.1646,-1.04,.1127,-.98,.1843,-.93,.2433,-.94,.2,-.87,.2071,-.88,.1607,-.87,.1339,-.87,.1103,-.81,.1135,-.72,.1910,-.69,.2511,-.71,.0918,-.72,.1548,-.66,.1437,-.61,.1312,-.59,.2264,-.51,.0820,-.46,.2090,-.42,.2334,-.40,.2275,-.35,.0958,-.28,.2047,-.32,.1666,-.23,.1449,-.19,.1866,-.19,.1064,-.07,.1174,.03,.1056,-.02,.1528,0,.1673,.07,.1866,.10,.2665,.12,.1194,.18,.1292,.25,.0820,.25,.2149,.28,.2445,.27,.1961,.27,.1784,.27,.1862,.42,.1685,.43,.1764,.51,.1788,.51,.2138,.51,.1862,.51,.1174,.52,.0946,.55,.4325,.56,.1087,.60,.1937,.62,.1390,.66,.1036,.67,.1744,.69,.3546,.70,.2913,.70,.1725,.73,.1910,.71,.1410,.75,.1536,.81,.0851,.89,.1732,1.0,.1717,1.03,.1685,1.06,.1587,1.10,.2771,1.17,.1225,1.20,.1725,1.33,.3381,1.39,.1363,1.41,.1705,1.44,.3357,1.51,.3369,1.54,.1154,1.54,.0938,1.63,.1477,1.71,.1264,1.80,.1331,1.82,.1937,1.91,.1319,1.94,.1253,1.95,.1945,1.96,.0820,2.16,.1563,2.30,.0851,2.39,.1913,2.43,.1890,2.48,.1209,2.54,.1603,2.67,.1929,2.77,.1390,2.88,.1264,2.94,.2252,3.80,.4950,3.93,.1304,4.34,.1980,4.40,.1630,4.65,.2531,4.78,.1213,4.97,.2016,5.21,.1969,5.41,.2464,5.47,.1347,-1.24,.1152,-1.21,.1128,-1.12,.1200,-1.07,.1164,-1.01,.1152,-1.10,.1104,-.96,.1110,-.93,.1080,-.89,.1140,-.83,.1122,-.76,.1134,-.69,.1164,-.63,.1218,-.51,.1247,-.46,.1128,-1.32,.1200,-1.26,.1206,-1.29,.1391,-1.25,.1367,-1.32,.1331,-.87,.1361,-.86,.1319,-.91,.1313,-.68,.1313,-.61,.1289,-.56,.1307,-.39,.1331,-.28,.1349,-.17,.1379,-.25,.1301,-.24,.1247,-.09,.1241,-.06,.1170,-.10,.1116,.07,.1313,.19,.1289,.21,.1253,.13,.1188,.40,.1295,.42,.1140,.52,.1178,.63,.1206,.54,.1337,.35,.1397,.61,.1439,.71,.1403,.73,.1546,.68,.1552,.33,.1504,0,.1516,.07,.1534,-.06,.1439,-.18,.1457,-.30,.1457,-.49,.1463,-.51,.1492,-.56,.1516,-.68,.1433,-1.03,.1451,-1.12,.1492,-1.12,.1457,-1.01,.1516,-.93,.1498,-.72,.1546,-.88,.1594,-.73,.1600,-1.61,.1594,-1.54,.1582,-1.66,.1648,-2.02,.1672,-2.27,.1385,-1.80,.1355,-2.03,.1325,-1.96,.1271,-2.06,.1235,-2.32,.1277,-2.65,.1298,-1.66,.1176,-1.54,.1134,-1.78,.1140,-1.94,.1122,-2.25,.1080,-2.31,.1038,-1.84,.1056,-1.68,.1026,-2.27,.0931,-2.32,.0901,-1.45,.0996,-1.18,.1008,-1.19,.0960,-1.12,.0925,-.98,.1003,-.63,.0975,-.70,.0913,-.34,.0960,-.32,.1062,-.30,.1032,-.19,.1062,.05,.1050,.57,.1086,.68,.1038,.52,.0943,1.40,.1361,1.19,.1224,1.27,.1206];
const trianglesD=[-4.51,.1835,-4.51,.1735,-4.51,.1655,-4.51,.1305,-4.51,.1185,-4.51,.1090,-4.51,.0950,-3.94,.2195,-3.89,.1300,-3.84,.1465,-3.70,.1790,-3.67,.1600,-3.60,.1740,-3.56,.1890,-3.45,.1470,-3.45,.1200,-3.43,.1090,-3.37,.1930,-3.34,.1350,-3.31,.1410,-3.21,.1990,-3.21,.1380,-3.16,.1130,-3.14,.1090,-3.01,.1020,-2.91,.1530,-2.82,.0840,-2.72,.2020,-2.72,.1620,-2.71,.1210,-2.60,.3035,-2.60,.1160,-2.56,.1760,-2.56,.1610,-2.44,.1520,-2.44,.1270,-2.03,.2310,-1.77,.2860,-1.65,.2610,-1.59,.2590,-1.50,.2800,-1.40,.2750,-1.57,.2280,-1.50,.2270,-1.20,.2590,-1.10,.3365,-.98,.3170,-.79,.2965,-.63,.3325,-.43,.2820,-.43,.2780,-.01,.2750,-.19,.3460,.57,.3155,1.24,.2965,1.57,.3145,1.63,.3500,1.87,.2780,1.65,.2585,.75,.2390,.30,.2480,.40,.2510,.27,.2450,-1.26,.3800,.27,.2250,.30,.2120,.94,.2170,.91,.1930,1.10,.1480,1.29,.1180,1.35,.2030,1.42,.1290,1.57,.1900,1.60,.2090,1.53,.1690,1.57,.1490,1.62,.1230,1.98,.2090,2.38,.1640,2.82,.2250,3.23,.2010,3.30,.2100,3.55,.2590,4.10,.1940,4.32,.1570,4.37,.2180,4.87,.4000,4.35,.5190,-.74,.0740,-1.3,.2300,-1.2,.2370,-1.1,.2540,-.95,.2300,-.85,.2440,-.8,.2350,-.7,.2490,-.65,.2440,-.6,.2350,-.5,.2390,-.25,.2340,-1.98,.2311,-1.57,.2281,-1.50,.2275,-1.28,.2311,-1.15,.2329,-.89,.2317,-.54,.2299,-.18,.2311,-.13,.2269,-1.26,.2257,-1.08,.2257,-.90,.2210,-.79,.2192,-.46,.2156,-.38,.2138,-.28,.2162,.28,.2245,-.14,.2108,.93,.2180,.26,.2120,-1.94,.2120,-1.75,.2078,-1.26,.2132,-1.15,.2138,-.97,.2126,-1.50,.2060,-1.43,.2048,-1.32,.2060,-1.10,.2054,-.76,.2048,-.65,.2072,-.55,.2054,-.48,.2060,.01,.2024,1.35,.2030,-2.72,.2024,-1.88,.1994,-2.16,.1976,-2.19,.1947,-1.10,.2000,-.59,.1988,-1.40,.1965,-1.43,.1929,-1.33,.1929,.18,.1935,1.08,.1947,.85,.1917,-1.81,.1905,-1.71,.1887,-1.57,.1887,-1.40,.1881,-1.24,.1875,-1.18,.1845,-1.0,.1917,-.48,.1905,-.58,.1863,-1.38,.1803,-2.03,.1809,-2.57,.1761,-1.98,.1743,-.84,.1815,-.73,.1809,-.65,.1827,-.32,.1761,.10,.1731,.31,.1725,-1.87,.1725,-1.42,.1743,-1.08,.1755,-.82,.1761,-.69,.1708,-.46,.1725,-.45,.1684,-2.76,.1672,-2.73,.1612,-2.62,.1588,-2.55,.1612,-2.08,.1630,-1.87,.1630,-1.73,.1684,-1.45,.1660,-1.36,.1666,-1.18,.1672,.22,.1678,.22,.1642,-.73,.1636,-.37,.1606,-2.13,.1606,-2.44,.1534,-2.33,.1534,-2.47,.1480,-2.29,.1463,-1.95,.1534,-2.12,.1492,-1.80,.1522,-1.84,.1475,-1.68,.1475,-1.54,.1469,-1.46,.1510,-1.38,.1504,-1.22,.1534,-1.67,.1564,-1.36,.1570,-1.08,.1564,-.82,.1678,-.14,.1558,-.21,.1522,.64,.1570,1.34,.1576,.77,.1463,1.09,.1469,-2.87,.1534,-.37,.1522,-.38,.1486,-.83,.1445,-2.51,.1391,-2.16,.1391,-2.19,.1355,-1.88,.1409,-1.78,.1403,-1.45,.1415,-1.39,.1403,-.77,.1409,-.54,.1391,-.34,.1421,-.06,.1391,.13,.1409,.31,.1415,.44,.1373,.18,.1355,-1.60,.1355,-1.54,.1355,-1.81,.1349,-1.84,.1295,-2.47,.1301,-2.38,.1289,-2.27,.1289,-2.15,.1283,-1.63,.1283,-1.53,.1301,-1.08,.1343,-1.07,.1295,-1.21,.1319,-.55,.1355,-.38,.1301,-.18,.1277,1.43,.1295,-2.58,.1253,-2.71,.1218,-1.46,.1218,-1.59,.1200,-1.10,.1247,-.83,.1253,-.83,.1200,-.96,.1200,-.28,.1235,.01,.1253,.12,.1235,.24,.1241,.46,.1247,.73,.1224,-.52,.1194,-.42,.1200,-2.60,.1164,-2.24,.1164,-1.84,.1182,-1.59,.1152,-1.40,.1164,-1.39,.1140,-.45,.1170,.32,.1182,.88,.1170,1.29,.1182,-2.06,.1134,-2.13,.1116,-1.89,.1122,-1.46,.1134,.16,.1110,0,.1104,-2.36,.1080,-2.13,.1068,-1.57,.1074,-1.29,.1062,-1.15,.1074,-.72,.1080,0,.1056,-2.20,.1026,-1.80,.1056,-.70,.1044,-.86,.1050,.36,.1032,-1.85,.0973,-1.36,.1020,-1.28,.0996,-1.01,.0979,-.82,.0990,-.68,.0990,-1.04,.1014,.42,.0973,-.45,.0943,-1.59,.0919,-1.78,.0895,-.86,.0925,-.58,.0901,-.07,.0913,-2.83,.0835];
const lineXs=[-4.89,5.87];
const solidA=[.6568,.7583], dashedA=[.7117,.7331];
const solidB=[.9247,.9500], dashedB=[.9387,.9401];
const solidC=[.9568,.96045], dashedC=[.9526,.9739];
const solidD=[.1528,.1732], dashedD=[.1245,.2503];
const xTickValues=[-4,-2,0,2,4];
const yTicksA=[.5,.6,.7,.8], yTicksB=[.90,.91,.92,.93,.94,.95,.96], yTicksC=[.93,.94,.95,.96,.97,.98], yTicksD=[.1,.2,.3,.4,.5];
const probes=["cg05265607","cg22823821","cg17551009","cg18407955"];
const letters=["A","B","C","D"];
const xLabel="Natural log of total PBB (ng/ml)";
const yLabelPrefix="Methylation proportion at ";

const colors={bg:"#daf1de",tri:"#6f8583",dot:"#0a0a0a",ink:"#000"};
const FONT="'Liberation Sans',Arial,sans-serif";
const layout=[
 {l:300,r:1773,t:204,b:1543,x0:968.5,xu:136.65,yA:[.8,486.7],yB:[.5,1361],labX:135,badge:[114,137],xl:1738},
 {l:2101.5,r:3576,t:204,b:1543,x0:2769,xu:136.65,yA:[.96,362.8],yB:[.90,1504.7],labX:1890,badge:[1868,139],xl:1738},
 {l:347.6,r:1821,t:1959,b:3297.4,x0:1015,xu:136.65,yA:[.98,2091.8],yB:[.93,3135],labX:129,badge:[104,1866],xl:3496},
 {l:2080,r:3553,t:1961,b:3299.6,x0:2748.5,xu:136.65,yA:[.5,2060],yB:[.1,3175.6],labX:1897,badge:[1876,1840],xl:3496}
];
const datasets=[
 {c:circlesA,t:trianglesA,s:solidA,d:dashedA,ticks:yTicksA,fmt:".1f"},
 {c:circlesB,t:trianglesB,s:solidB,d:dashedB,ticks:yTicksB,fmt:".2f"},
 {c:circlesC,t:trianglesC,s:solidC,d:dashedC,ticks:yTicksC,fmt:".2f"},
 {c:circlesD,t:trianglesD,s:solidD,d:dashedD,ticks:yTicksD,fmt:".1f"}
];
const pairs=a=>d3.range(0,a.length,2).map(i=>[a[i],a[i+1]]);

const svg=d3.select("#chart").append("svg").attr("width",3638).attr("height",3614).style("display","block")
  .style("font-family",FONT);
svg.append("rect").attr("width",3638).attr("height",3614).attr("fill",colors.bg);
const triPath=d3.line()([[0,-10],[10.5,8.5],[-10.5,8.5]])+"Z";
const dotPath=d3.symbol(d3.symbolCircle,Math.PI*8.3*8.3)();

layout.forEach((p,i)=>{
  const ds=datasets[i];
  const xb=d3.scaleLinear().domain([0,1]).range([p.x0,p.x0+p.xu]);
  const x=d3.scaleLinear().domain([xb.invert(p.l),xb.invert(p.r)]).range([p.l,p.r]);
  const yb=d3.scaleLinear().domain([p.yA[0],p.yB[0]]).range([p.yA[1],p.yB[1]]);
  const y=d3.scaleLinear().domain([yb.invert(p.b),yb.invert(p.t)]).range([p.b,p.t]);
  const g=svg.append("g");
  g.append("rect").attr("x",p.l).attr("y",p.t).attr("width",p.r-p.l).attr("height",p.b-p.t).attr("fill","#fff");
  // the two groups overlap each other in the figure, so they are drawn interleaved
  const tr=pairs(ds.t), ci=pairs(ds.c);
  const marks=d3.sort([
    ...tr.map((d,k)=>({d,tri:true,o:k/tr.length})),
    ...ci.map((d,k)=>({d,tri:false,o:k/ci.length}))
  ],m=>m.o);
  g.append("g").selectAll("path").data(marks).join("path")
    .attr("d",m=>m.tri?triPath:dotPath).attr("fill",m=>m.tri?colors.tri:colors.dot)
    .attr("transform",m=>`translate(${x(m.d[0])},${y(m.d[1])})`);
  const ln=d3.line().x(d=>x(d[0])).y(d=>y(d[1]));
  g.append("path").attr("d",ln(lineXs.map((v,k)=>[v,ds.s[k]]))).attr("fill","none").attr("stroke",colors.ink).attr("stroke-width",2.4);
  g.append("path").attr("d",ln(lineXs.map((v,k)=>[v,ds.d[k]]))).attr("fill","none").attr("stroke",colors.ink).attr("stroke-width",2.4).attr("stroke-dasharray","17 7");
  const ax=g.append("g").attr("transform",`translate(0,${p.b})`)
    .call(d3.axisBottom(x).tickValues(xTickValues).tickSize(34).tickSizeOuter(0).tickPadding(22).tickFormat(d=>String(d)));
  const ay=g.append("g").attr("transform",`translate(${p.l},0)`)
    .call(d3.axisLeft(y).tickValues(ds.ticks).tickSize(34).tickSizeOuter(0).tickPadding(14).tickFormat(d3.format(ds.fmt)));
  [ax,ay].forEach(a=>{
    a.selectAll("path,line").attr("stroke",colors.ink).attr("stroke-width",4.2);
    a.selectAll("text").attr("fill",colors.ink).style("font-size","68px").style("font-family",FONT);
  });
  g.append("text").text(xLabel).attr("x",(p.l+p.r)/2).attr("y",p.xl).attr("text-anchor","middle")
    .style("font-size","66.7px").style("font-weight","bold");
  g.append("text").text(yLabelPrefix+probes[i]).attr("text-anchor","middle")
    .attr("transform",`translate(${p.labX},${(p.t+p.b)/2}) rotate(-90)`)
    .style("font-size","66.5px").style("font-weight","bold");
  g.append("circle").attr("cx",p.badge[0]).attr("cy",p.badge[1]).attr("r",41).attr("fill","#fff").attr("stroke",colors.ink).attr("stroke-width",5);
  g.append("text").text(letters[i]).attr("x",p.badge[0]).attr("y",p.badge[1]+24).attr("text-anchor","middle")
    .style("font-size","66px").style("font-weight","bold");
});
</script></body></html>
